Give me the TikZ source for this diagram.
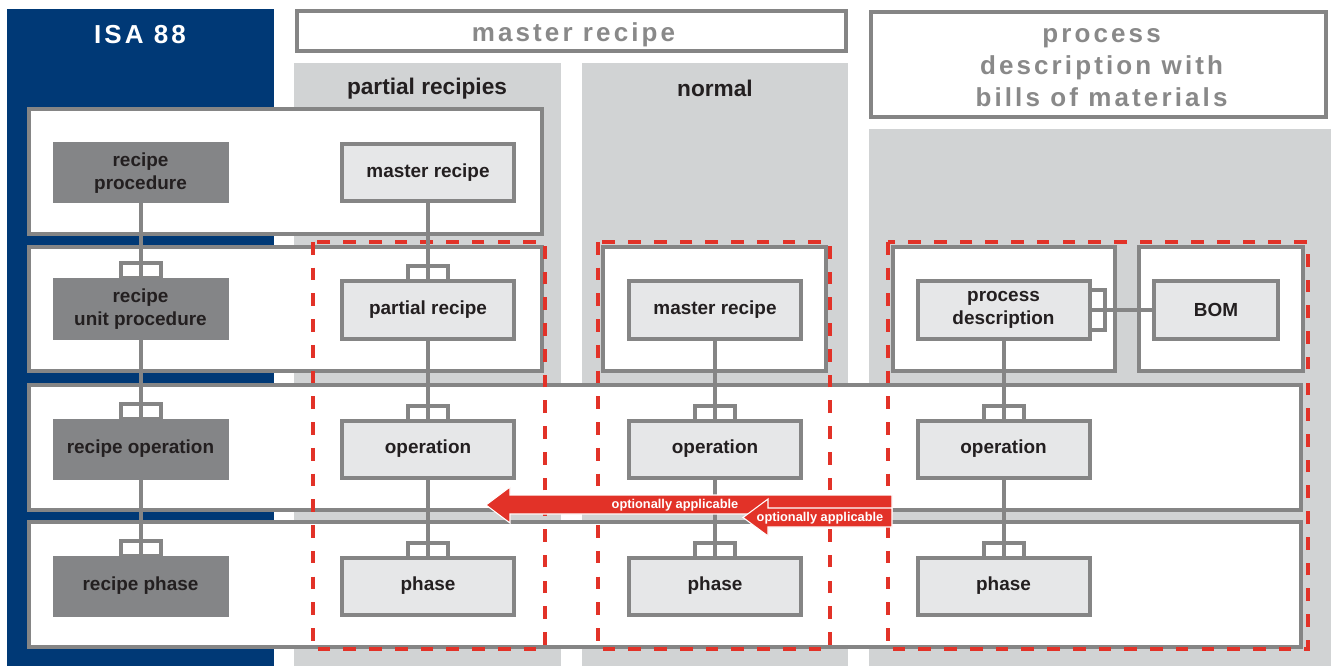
\documentclass[tikz,border=0pt]{standalone}
\usepackage{fontspec}
\setmainfont{Liberation Sans}
\newfontfamily\spacedfont[LetterSpace=12]{Liberation Sans}
\usetikzlibrary{calc}
\definecolor{isablue}{RGB}{0,57,118}
\definecolor{colgray}{RGB}{209,211,212}
\definecolor{linegray}{RGB}{133,133,133}
\definecolor{nodegray}{RGB}{132,133,135}
\definecolor{lightfill}{RGB}{230,231,232}
\definecolor{redline}{RGB}{226,50,40}
\definecolor{txt}{RGB}{35,31,32}
\definecolor{hdrgray}{RGB}{137,137,137}
\pgfdeclarelayer{bg}
\pgfsetlayers{bg,main}
\tikzset{
  lbox/.style={draw=linegray, line width=3pt, fill=lightfill, minimum width=129pt,
    minimum height=42.75pt, outer sep=0pt, inner sep=0pt, align=center,
    font=\fontsize{14.2}{17}\selectfont\bfseries, text=txt},
  dbox/.style={fill=nodegray, minimum width=132pt, minimum height=45.75pt,
    outer sep=0pt, inner sep=0pt, align=center,
    font=\fontsize{14.2}{17}\selectfont\bfseries, text=txt},
  rowbox/.style={draw=linegray, line width=3pt, fill=white},
  redbox/.style={draw=redline, line width=3.5pt, dash pattern=on 9.5pt off 9.8pt},
  conn/.style={draw=linegray, line width=3pt},
  brk/.style={draw=linegray, line width=3pt},
  colhdr/.style={font=\fontsize{17}{20}\selectfont\bfseries, text=txt},
  bighdr/.style={font=\spacedfont\fontsize{19.5}{24}\selectfont\bfseries, text=hdrgray, align=center},
  arrowshape/.style={fill=redline, draw=white, line width=0.8pt, line join=miter},
  arrowtext/.style={text=white, font=\fontsize{9.6}{11}\selectfont\bfseries, inner sep=0pt}
}
\begin{document}
\begin{tikzpicture}[x=0.75pt,y=-0.75pt]
\useasboundingbox (0,0) rectangle (1333,666);
\begin{pgfonlayer}{bg}
  % columns
  \fill[isablue] (7,9) rectangle (274,666);
  \fill[colgray] (294,63) rectangle (561,666);
  \fill[colgray] (582,63) rectangle (848,666);
  \fill[colgray] (869,129) rectangle (1331,666);
  % header boxes
  \draw[draw=linegray, line width=3pt, fill=white] (297,11) rectangle (846,51);
  \draw[draw=linegray, line width=3pt, fill=white] (871,12) rectangle (1326,117);
  % row boxes
  \draw[rowbox] (29,109) rectangle (542,234);
  \draw[rowbox] (29,247) rectangle (542,371);
  \draw[rowbox] (603,247) rectangle (826,371);
  \draw[rowbox] (893,247) rectangle (1115,371);
  \draw[rowbox] (1139,247) rectangle (1303,371);
  \draw[rowbox] (29,385) rectangle (1301,510);
  \draw[rowbox] (29,522) rectangle (1301,647);
  % red dashed groups
  \draw[redbox] (313,242) rectangle (545,649);
  \draw[redbox] (598,242) rectangle (830,649);
  \draw[redbox] (888,242) rectangle (1308,649);
\end{pgfonlayer}

% headers
\node[font=\spacedfont\fontsize{19.5}{22}\selectfont\bfseries, text=white] (hisa) at (140,34.5) {ISA 88};
\node[bighdr] (hmaster) at (573.5,35) {master recipe};
\node[bighdr] (hproc) at (1101.5,67.5) {process\\description with\\bills of materials};
\node[colhdr] (hpartial) at (427,89) {partial recipies};
\node[colhdr] (hnormal) at (715,88.5) {normal};

% ISA 88 nodes
\node[dbox] (isaA) at (140.5,173) {recipe\\procedure};
\node[dbox] (isaB) at (140.5,309) {recipe\\unit procedure};
\node[dbox] (isaC) at (140.5,449) {recipe operation};
\node[dbox] (isaD) at (140.5,586) {recipe phase};

% partial recipes column
\node[lbox] (mA) at (428,173) {master recipe};
\node[lbox] (pA) at (428,310) {partial recipe};
\node[lbox] (oA) at (428,449) {operation};
\node[lbox] (phA) at (428,586) {phase};

% normal column
\node[lbox] (mB) at (715,310) {master recipe};
\node[lbox] (oB) at (715,449) {operation};
\node[lbox] (phB) at (715,586) {phase};

% process description column
\node[lbox] (pdC) at (1003.5,310) {process\\description};
\node[lbox, minimum width=93pt] (bom) at (1216,310) {BOM};
\node[lbox] (oC) at (1003.5,449) {operation};
\node[lbox] (phC) at (1003.5,586) {phase};

\begin{pgfonlayer}{bg}
  \draw[conn] (isaA) -- (isaD);
  \draw[conn] (mA) -- (phA);
  \draw[conn] (mB) -- (phB);
  \draw[conn] (pdC) -- (phC);
  \draw[conn] (pdC.east) -- (bom.west);
  \foreach \n in {isaB,isaC,isaD,pA,oA,phA,oB,phB,oC,phC}{
    \draw[brk] ($(\n.north)+(-20,-15)$) rectangle ($(\n.north)+(20,0)$);
  }
  \draw[brk] ($(pdC.east)+(0,-20)$) rectangle ($(pdC.east)+(15,20)$);
\end{pgfonlayer}

% arrows
\draw[arrowshape] (892,495) -- (510,495) -- (510,487) -- (486,505) -- (510,523) -- (510,514) -- (892,514) -- cycle;
\draw[arrowshape] (892,508) -- (768,508) -- (768,499) -- (743,517.5) -- (768,536) -- (768,527) -- (892,527) -- cycle;
\node[arrowtext] (optA) at (675,505.5) {optionally applicable};
\node[arrowtext] (optB) at (820,518.5) {optionally applicable};
\end{tikzpicture}
\end{document}
